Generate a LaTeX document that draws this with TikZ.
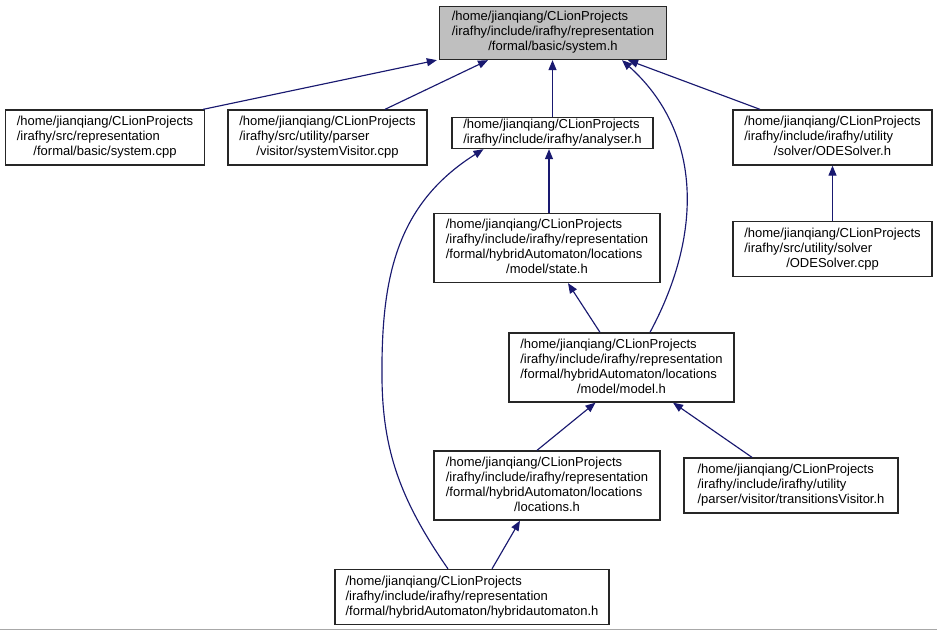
\documentclass[tikz,border=0pt]{standalone}
\usepackage{fontspec}
\setmainfont{Liberation Sans}
\usetikzlibrary{arrows.meta,calc}
\definecolor{edgeblue}{HTML}{191970}
\definecolor{rootgray}{HTML}{BFBFBF}
\definecolor{rulegray}{HTML}{A8A8A8}
\newcommand\flab[2]{\begin{tabular}{@{}l@{}}#1\\\multicolumn{1}{@{}c@{}}{#2}\end{tabular}}
\begin{document}
\begin{tikzpicture}[x=1pt,y=-1pt,
  filebox/.style={draw=black!85, line width=1.3pt, fill=white, inner sep=0pt,
    font=\fontsize{13}{15}\selectfont},
  rootbox/.style={filebox, fill=rootgray},
  edge/.style={draw=edgeblue, line width=1.15pt,
    -{Triangle[length=10pt,width=8pt]}}]
\useasboundingbox (0,0) rectangle (937,631);
\draw[rulegray, line width=1.5pt] (0,629.5) -- (937,629.5);

\node[rootbox, minimum width=227pt, minimum height=53pt] (sys) at (553,33)
  {\flab{/home/jianqiang/CLionProjects\\/irafhy/include/irafhy/representation}{/formal/basic/system.h}};
\node[filebox, minimum width=199pt, minimum height=55pt] (scpp) at (105,137.5)
  {\flab{/home/jianqiang/CLionProjects\\/irafhy/src/representation}{/formal/basic/system.cpp}};
\node[filebox, minimum width=199pt, minimum height=55pt] (svis) at (327.5,137.5)
  {\flab{/home/jianqiang/CLionProjects\\/irafhy/src/utility/parser}{/visitor/systemVisitor.cpp}};
\node[filebox, minimum width=201pt, minimum height=31pt] (ana) at (552.5,133)
  {\flab{/home/jianqiang/CLionProjects}{/irafhy/include/irafhy/analyser.h}};
\node[filebox, minimum width=199pt, minimum height=55pt] (odeh) at (832.5,137.5)
  {\flab{/home/jianqiang/CLionProjects\\/irafhy/include/irafhy/utility}{/solver/ODESolver.h}};
\node[filebox, minimum width=199pt, minimum height=55pt] (odecpp) at (832.5,249)
  {\flab{/home/jianqiang/CLionProjects\\/irafhy/src/utility/solver}{/ODESolver.cpp}};
\node[filebox, minimum width=226pt, minimum height=69pt] (state) at (547,248)
  {\flab{/home/jianqiang/CLionProjects\\/irafhy/include/irafhy/representation\\/formal/hybridAutomaton/locations}{/model/state.h}};
\node[filebox, minimum width=225pt, minimum height=69pt] (model) at (621.5,367.5)
  {\flab{/home/jianqiang/CLionProjects\\/irafhy/include/irafhy/representation\\/formal/hybridAutomaton/locations}{/model/model.h}};
\node[filebox, minimum width=226pt, minimum height=69pt] (loc) at (547,485.5)
  {\flab{/home/jianqiang/CLionProjects\\/irafhy/include/irafhy/representation\\/formal/hybridAutomaton/locations}{/locations.h}};
\node[filebox, minimum width=214pt, minimum height=55pt] (trans) at (791,485.5)
  {\flab{/home/jianqiang/CLionProjects\\/irafhy/include/irafhy/utility}{/parser/visitor/transitionsVisitor.h}};
\node[filebox, minimum width=274pt, minimum height=55pt] (hyb) at (472,597)
  {\flab{/home/jianqiang/CLionProjects\\/irafhy/include/irafhy/representation}{/formal/hybridAutomaton/hybridautomaton.h}};

\draw[edge] ([xshift=-2pt]scpp.north east) -- ([xshift=-2pt]sys.south west);
\draw[edge] ([xshift=57.5pt]svis.north) -- ([xshift=-65pt]sys.south);
\draw[edge] (ana.north) -- (ana.north |- sys.south);
\draw[edge] ([xshift=-72.5pt]odeh.north) -- ([xshift=75pt]sys.south);
\draw[edge] ([xshift=28.5pt]model.north) .. controls (705,230) and (700,130) .. ([xshift=69pt]sys.south);
\draw[edge] ([xshift=2pt]state.north) -- ([xshift=-3.5pt]ana.south);
\draw[edge] ([xshift=-21.5pt]model.north) -- ([xshift=21pt]state.south);
\draw[edge] ([xshift=-10pt]loc.north) -- ([xshift=-26pt]model.south);
\draw[edge] ([xshift=-39pt]trans.north) -- ([xshift=51.5pt]model.south);
\draw[edge] ([xshift=20pt]hyb.north) -- ([xshift=-27pt]loc.south);
\draw[edge] (odecpp.north) -- (odecpp.north |- odeh.south);
\draw[edge] ([xshift=-24pt]hyb.north) .. controls (400,500) and (383,450) .. (382,380)
  .. controls (381,280) and (395,205) .. ([xshift=-69pt]ana.south);
\end{tikzpicture}
\end{document}
